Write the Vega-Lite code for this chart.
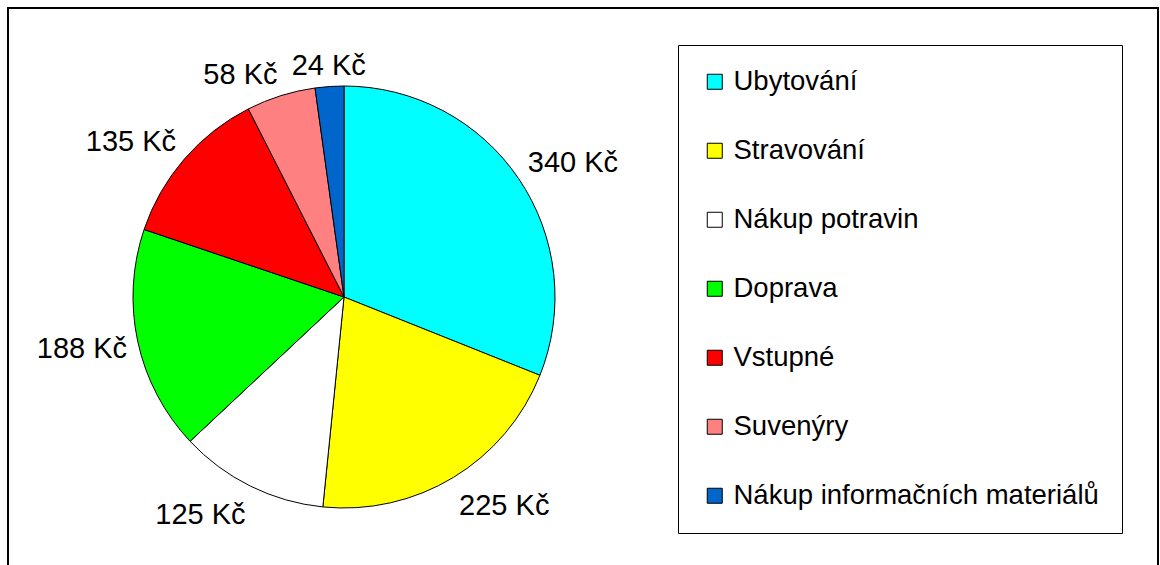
{
  "$schema": "https://vega.github.io/schema/vega-lite/v6.json",
  "width": 1150,
  "height": 560,
  "autosize": {"type": "none"},
  "padding": {"left": 8, "top": 8, "right": 2, "bottom": 0},
  "background": "white",
  "view": {"stroke": "black", "strokeWidth": 2},
  "config": {
    "font": "Liberation Sans"
  },
  "data": {
    "values": [
      {"kategorie": "Ubytování", "castka": 340, "poradi": 1, "popisek": "340 Kč"},
      {"kategorie": "Stravování", "castka": 225, "poradi": 2, "popisek": "225 Kč"},
      {"kategorie": "Nákup potravin", "castka": 125, "poradi": 3, "popisek": "125 Kč"},
      {"kategorie": "Doprava", "castka": 188, "poradi": 4, "popisek": "188 Kč"},
      {"kategorie": "Vstupné", "castka": 135, "poradi": 5, "popisek": "135 Kč"},
      {"kategorie": "Suvenýry", "castka": 58, "poradi": 6, "popisek": "58 Kč"},
      {"kategorie": "Nákup informačních materiálů", "castka": 24, "poradi": 7, "popisek": "24 Kč"}
    ]
  },
  "layer": [
    {
      "data": {"values": [{"ramecek": 1}]},
      "mark": {"type": "rect", "fill": null, "fillOpacity": 0, "stroke": "black", "strokeWidth": 2},
      "encoding": {}
    },
    {
      "mark": {"type": "arc", "outerRadius": 211, "x": 336, "y": 289, "stroke": "black", "strokeWidth": 1},
      "encoding": {
        "theta": {"field": "castka", "type": "quantitative", "stack": true},
        "order": {"field": "poradi", "type": "quantitative"},
        "color": {
          "field": "kategorie",
          "type": "nominal",
          "scale": {
            "domain": ["Ubytování", "Stravování", "Nákup potravin", "Doprava", "Vstupné", "Suvenýry", "Nákup informačních materiálů"],
            "range": ["#00FFFF", "#FFFF00", "#FFFFFF", "#00FF00", "#FF0000", "#FF8080", "#0066CC"]
          },
          "legend": {
            "title": null,
            "orient": "none",
            "legendX": 670,
            "legendY": 37,
            "direction": "vertical",
            "padding": 23,
            "strokeColor": "black",
            "fillColor": "white",
            "symbolType": "square",
            "symbolSize": 225,
            "symbolStrokeColor": "black",
            "symbolStrokeWidth": 1,
            "symbolOpacity": 1,
            "labelFont": "Liberation Sans",
            "labelFontSize": 27.5,
            "labelColor": "black",
            "labelOffset": 5,
            "labelLimit": 600,
            "rowPadding": 40
          }
        }
      }
    },
    {
      "mark": {
        "type": "text",
        "radius": 222,
        "x": 336,
        "y": 289,
        "dy": 5,
        "font": "Liberation Sans",
        "fontSize": 29,
        "color": "black",
        "align": {"expr": "sin((scale('theta', datum.castka_start) + scale('theta', datum.castka_end)) / 2) > 0.25 ? 'left' : (sin((scale('theta', datum.castka_start) + scale('theta', datum.castka_end)) / 2) < -0.25 ? 'right' : 'center')"},
        "baseline": {"expr": "cos((scale('theta', datum.castka_start) + scale('theta', datum.castka_end)) / 2) > 0.25 ? 'bottom' : (cos((scale('theta', datum.castka_start) + scale('theta', datum.castka_end)) / 2) < -0.25 ? 'top' : 'middle')"}
      },
      "encoding": {
        "theta": {"field": "castka", "type": "quantitative", "stack": true},
        "order": {"field": "poradi", "type": "quantitative"},
        "text": {"field": "popisek", "type": "nominal"}
      }
    }
  ]
}
